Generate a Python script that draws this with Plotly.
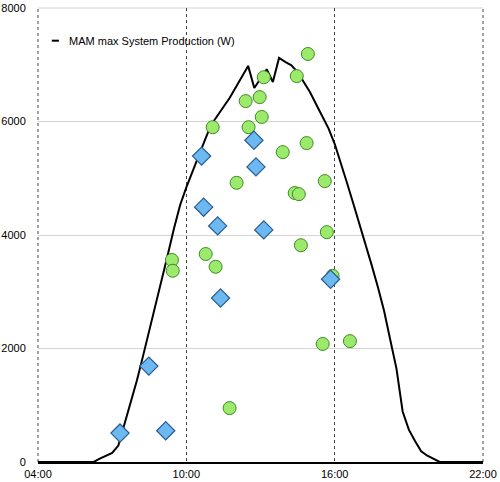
import plotly.graph_objects as go

DAY = "2024-01-01 "

# Max system production curve (W)
line_times = ["04:00", "06:15", "06:30", "06:45", "07:00", "07:15", "07:30", "07:45",
              "08:00", "08:15", "08:30", "08:45", "09:00", "09:15", "09:30", "09:45",
              "10:00", "10:15", "10:30", "10:45", "11:00", "11:15", "11:30", "11:45",
              "12:00", "12:15", "12:30", "12:45", "13:00", "13:15", "13:30", "13:45",
              "14:00", "14:15", "14:30", "14:45", "15:00", "15:15", "15:30", "15:45",
              "16:00", "16:15", "16:30", "16:45", "17:00", "17:15", "17:30", "17:45",
              "18:00", "18:15", "18:30", "18:45", "19:00", "19:15", "19:30", "19:45",
              "20:00", "20:15", "22:00"]
line_values = [0, 0, 58, 110, 160, 290, 666, 1030,
               1437, 1870, 2308, 2730, 3174, 3650, 4115, 4530,
               4840, 5125, 5400, 5670, 5940, 6090, 6255, 6415,
               6600, 6790, 6980, 6590, 6750, 6920, 6695, 7120,
               7050, 6990, 6870, 6700, 6520, 6305, 6090, 5880,
               5607, 5280, 4915, 4560, 4205, 3840, 3465, 3080,
               2660, 2150, 1645, 890, 570, 370, 190, 110,
               50, 0, 0]

# Green circle observations
green_times = ["14:55", "13:08", "14:28", "12:24", "12:58", "13:03", "11:04", "12:31",
               "13:54", "14:52", "12:02", "14:23", "14:33", "15:36", "09:25", "09:27",
               "10:47", "11:11", "14:38", "15:41", "15:55", "15:31", "16:37", "11:45"]
green_values = [7190, 6780, 6800, 6360, 6430, 6080, 5900, 5900,
                5460, 5620, 4920, 4740, 4720, 4950, 3560, 3370,
                3665, 3440, 3820, 4050, 3280, 2080, 2130, 950]

# Blue diamond observations
blue_times = ["10:37", "12:44", "12:49", "10:42", "11:16", "13:08", "11:23", "15:50",
              "07:19", "08:29", "09:10"]
blue_values = [5390, 5670, 5200, 4490, 4160, 4090, 2890, 3220,
               510, 1690, 550]

legend_label = "MAM max System Production (W)"
y_ticks = [0, 2000, 4000, 6000, 8000]

FONT = "Liberation Sans, Arial, Helvetica, sans-serif"

fig = go.Figure()
fig.add_trace(go.Scatter(
    x=[DAY + t for t in line_times], y=line_values, mode="lines",
    line=dict(color="black", width=2), name=legend_label, showlegend=False,
    hoverinfo="skip"))
fig.add_trace(go.Scatter(
    x=[DAY + t for t in green_times], y=green_values, mode="markers",
    marker=dict(symbol="circle", size=13, color="#9cea6c",
                line=dict(color="#3f8a24", width=1)), showlegend=False))
fig.add_trace(go.Scatter(
    x=[DAY + t for t in blue_times], y=blue_values, mode="markers",
    marker=dict(symbol="diamond", size=14, color="#6cb8f0",
                line=dict(color="#2a5a92", width=1.2)), showlegend=False))

# Edge frame lines: dotted at left/right, light grid at top
for xp in (0, 1):
    fig.add_shape(type="line", xref="paper", yref="paper", x0=xp, x1=xp, y0=0, y1=1,
                  line=dict(color="#444", width=1, dash="dot"), layer="below")
fig.add_shape(type="line", xref="paper", yref="paper", x0=0, x1=1, y0=1, y1=1,
              line=dict(color="#d4d4d4", width=1), layer="below")

# Legend (line sample + text)
fig.add_shape(type="line", xref="paper", yref="paper",
              x0=0.031, x1=0.047, y0=0.928, y1=0.928,
              line=dict(color="black", width=2))
fig.add_annotation(xref="paper", yref="paper", x=0.066, y=0.928,
                   text=legend_label, showarrow=False, xanchor="left",
                   yanchor="middle", font=dict(family=FONT, size=11, color="black"))

fig.update_layout(
    width=500, height=482,
    margin=dict(l=38, r=17, t=8, b=20),
    paper_bgcolor="white", plot_bgcolor="white",
    font=dict(family=FONT, size=11, color="black"),
    showlegend=False,
    xaxis=dict(
        type="date", automargin=False,
        range=[DAY + "04:00", DAY + "22:00"],
        tick0=DAY + "04:00", dtick=6 * 3600 * 1000,
        tickformat="%H:%M",
        showgrid=True, gridcolor="#444", griddash="dot", gridwidth=1,
        showline=True, linecolor="black", linewidth=1.5,
        ticks="outside", ticklen=1, tickcolor="rgba(0,0,0,0)",
        zeroline=False,
    ),
    yaxis=dict(
        range=[0, 8000], automargin=False,
        tickvals=y_ticks,
        showgrid=True, gridcolor="#d4d4d4", gridwidth=1,
        showline=False, zeroline=False,
        ticks="outside", ticklen=9, tickcolor="rgba(0,0,0,0)",
    ),
)

fig.write_html("out.html")
